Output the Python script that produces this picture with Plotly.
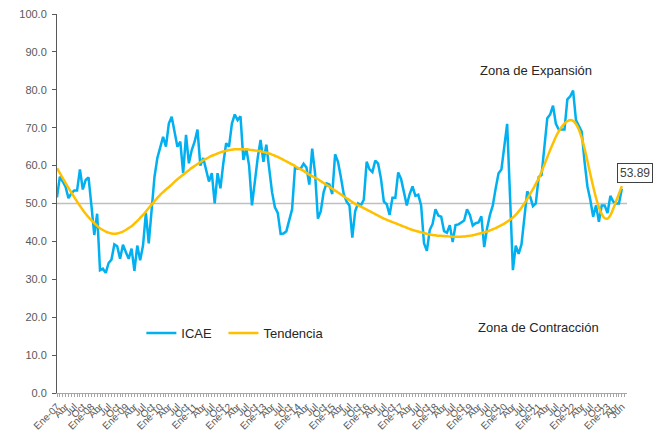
import plotly.graph_objects as go

# Meses / años para las etiquetas del eje
meses = ["Ene", "Feb", "Mar", "Abr", "May", "Jun", "Jul", "Ago", "Sep", "Oct", "Nov", "Dic"]
anios = list(range(2007, 2024))

icae = [
    51.6, 57.1, 55.8, 54.4, 51.4, 52.7, 53.4, 53.4, 59.0, 53.7, 56.2, 56.9,
    49.5, 41.7, 47.3, 32.4, 32.8, 31.7, 34.3, 35.2, 39.2, 38.7, 35.4, 39.1,
    37.2, 35.4, 38.1, 32.2, 38.9, 35.0, 38.9, 47.5, 39.5, 48.0, 57.0, 62.0,
    64.5, 67.6, 65.0, 71.1, 72.9, 69.0, 65.0, 66.3, 58.0, 68.1, 60.6, 64.1,
    66.3, 69.5, 60.0, 62.0, 59.0, 55.8, 58.0, 50.0, 58.0, 54.0, 60.6, 65.9,
    65.0, 71.1, 73.5, 72.0, 73.0, 61.5, 64.5, 60.0, 49.5, 56.5, 62.0, 66.8,
    61.0, 65.5, 59.0, 53.0, 49.0, 47.5, 42.0, 42.1, 42.7, 45.5, 48.5, 59.5,
    59.2, 59.2, 60.5, 59.5, 55.0, 64.5, 58.0, 46.0, 48.0, 53.0, 55.3, 55.0,
    52.5, 63.0, 61.0, 57.0, 52.5, 50.5, 49.5, 41.0, 48.0, 50.0, 49.5, 51.0,
    61.0, 59.0, 58.3, 61.3, 60.5, 56.5, 50.5, 49.8, 47.0, 51.5, 51.5, 58.2,
    56.5, 53.0, 49.5, 52.5, 54.5, 52.0, 52.3, 49.5, 39.5, 37.5, 43.0, 44.6,
    48.5, 46.8, 46.5, 42.7, 42.3, 44.3, 39.8, 44.3, 44.5, 45.0, 45.5, 48.5,
    47.0, 44.2, 44.8, 45.0, 46.6, 38.5, 43.5, 47.0, 49.5, 54.0, 58.0, 59.0,
    65.0, 71.0, 52.0, 32.4, 38.9, 36.7, 39.2, 46.0, 53.2, 51.9, 49.3, 50.0,
    57.0, 57.5, 65.0, 72.5, 73.5, 75.8, 71.0, 69.5, 69.5, 69.5, 77.5, 78.3,
    79.8, 72.0, 70.5, 69.0, 61.0, 54.5, 51.0, 46.5, 49.5, 45.2, 49.5, 49.5,
    47.5, 52.0, 50.5, 50.0, 50.0, 53.89,
]

tendencia = [
    59.3, 58.0, 56.7, 55.4, 54.1, 52.9, 51.7, 50.5, 49.4, 48.3, 47.3, 46.4,
    45.6, 44.8, 44.1, 43.5, 43.0, 42.6, 42.3, 42.1, 42.0, 42.1, 42.3, 42.6,
    43.0, 43.5, 44.0, 44.7, 45.4, 46.2, 47.0, 47.9, 48.8, 49.7, 50.6, 51.5,
    52.3, 53.0, 53.7, 54.3, 55.0, 55.7, 56.4, 57.0, 57.6, 58.2, 58.8, 59.4,
    59.9, 60.4, 60.9, 61.4, 61.8, 62.2, 62.6, 62.9, 63.2, 63.5, 63.7, 63.9,
    64.1, 64.2, 64.3, 64.3, 64.3, 64.3, 64.3, 64.2, 64.1, 64.0, 63.9, 63.8,
    63.6, 63.4, 63.2, 62.9, 62.6, 62.3, 61.9, 61.5, 61.1, 60.7, 60.3, 59.9,
    59.4, 59.0, 58.6, 58.1, 57.6, 57.2, 56.8, 56.4, 55.9, 55.4, 54.9, 54.4,
    53.9, 53.4, 52.9, 52.4, 51.9, 51.4, 50.9, 50.4, 49.9, 49.5, 49.2, 48.8,
    48.4, 48.0, 47.6, 47.2, 46.8, 46.4, 46.0, 45.7, 45.4, 45.1, 44.8, 44.5,
    44.2, 43.9, 43.6, 43.3, 43.0, 42.8, 42.6, 42.4, 42.2, 42.0, 41.8, 41.7,
    41.6, 41.5, 41.5, 41.4, 41.35, 41.3, 41.25, 41.2, 41.2, 41.25, 41.3, 41.4,
    41.5, 41.6, 41.8, 42.0, 42.2, 42.4, 42.6, 42.9, 43.2, 43.5, 43.9, 44.3,
    44.7, 45.2, 45.7, 46.3, 47.0, 47.9, 48.9, 50.0, 51.2, 52.5, 53.8, 55.2,
    56.6, 58.4, 60.3, 62.2, 64.1, 65.9, 67.6, 69.0, 70.2, 71.1, 71.7, 72.0,
    71.8, 71.0, 69.5, 67.3, 64.5, 61.2, 57.8, 54.5, 51.5, 49.0, 47.2, 46.1,
    46.0, 46.9, 48.6, 50.6, 52.6, 54.6,
]

n = len(icae)
x = list(range(n))

# etiquetas trimestrales (Ene-07, Abr, Jul, Oct, ...) y la última (Jun)
tickvals, ticktext = [], []
for i in range(n):
    anio, mes = anios[i // 12], i % 12
    if mes % 3 == 0:
        tickvals.append(i)
        ticktext.append(f"Ene-{anio % 100:02d}" if mes == 0 else meses[mes])
if tickvals[-1] != n - 1:
    tickvals.append(n - 1)
    ticktext.append(meses[(n - 1) % 12])

fig = go.Figure()

fig.add_trace(go.Scatter(
    x=x, y=icae, mode="lines", name="ICAE", legend="legend",
    line=dict(color="#00B0F0", width=2.5),
))
fig.add_trace(go.Scatter(
    x=x, y=tendencia, mode="lines", name="Tendencia", legend="legend2",
    line=dict(color="#FFC000", width=2.5, shape="spline"),
))

# línea de referencia en 50
fig.add_shape(type="line", xref="paper", x0=0, x1=1, y0=50, y1=50,
              line=dict(color="#BFBFBF", width=1.5), layer="below")

fig.add_annotation(x=167, y=85, text="Zona de Expansión", showarrow=False,
                   xanchor="center", yanchor="middle",
                   font=dict(size=13, color="#262626"))
fig.add_annotation(x=168, y=17.3, text="Zona de Contracción", showarrow=False,
                   xanchor="center", yanchor="middle",
                   font=dict(size=13, color="#262626"))
fig.add_annotation(x=n - 1, y=icae[-1], text=f"{icae[-1]:.2f}",
                   showarrow=False, xanchor="left", yanchor="bottom",
                   xshift=-5, yshift=6, bgcolor="white",
                   bordercolor="#404040", borderwidth=1, borderpad=2,
                   font=dict(size=12, color="#404040"))

leyenda = dict(orientation="h", y=0.158, xanchor="left", yanchor="middle",
               font=dict(size=13, color="#262626"), bgcolor="rgba(0,0,0,0)",
               itemwidth=30)

# la página añade 8 px de margen al cuerpo: se compensa en el tamaño
fig.update_layout(
    width=654, height=428,
    margin=dict(l=49, r=35, t=6, b=43),
    plot_bgcolor="white", paper_bgcolor="white",
    font=dict(family="Liberation Sans, Arial, sans-serif", color="#595959"),
    showlegend=True,
    legend=dict(leyenda, x=0.148),
    legend2=dict(leyenda, x=0.292),
    xaxis=dict(
        range=[0, n + 0.8], automargin=False, ticklabeloverflow="allow",
        tickmode="array", tickvals=tickvals, ticktext=ticktext,
        tickangle=-45, tickfont=dict(size=10, color="#595959"),
        ticks="outside", ticklen=3, tickcolor="#A6A6A6",
        minor=dict(dtick=1, tick0=0, ticks="outside", ticklen=3, tickcolor="#A6A6A6"),
        showline=True, linecolor="#A6A6A6", linewidth=1,
        showgrid=False, zeroline=False,
    ),
    yaxis=dict(
        range=[0, 100], dtick=10, tickformat=".1f", automargin=False,
        ticklabeloverflow="allow",
        tickfont=dict(size=11, color="#595959"), ticklabelstandoff=3,
        ticks="outside", ticklen=4, tickcolor="#595959",
        showline=True, linecolor="#595959", linewidth=1,
        showgrid=False, zeroline=False,
    ),
)

fig.write_html("out.html")
